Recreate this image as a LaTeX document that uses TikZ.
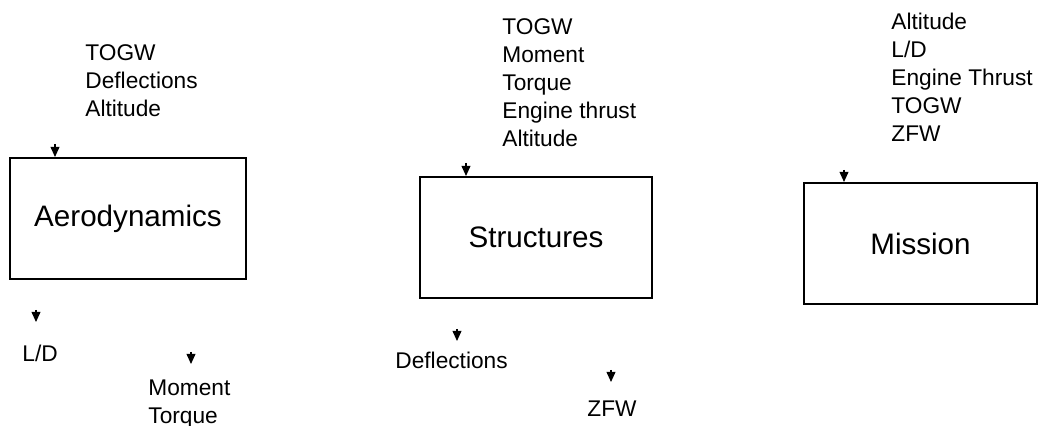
\documentclass[tikz,border=0pt]{standalone}
\usepackage{fontspec}
\setmainfont{Liberation Sans}
\usetikzlibrary{arrows.meta}
\begin{document}
\begin{tikzpicture}[x=0.5pt,y=-0.5pt,
  blockbox/.style={draw, line width=0.8pt, inner sep=0pt, font=\fontsize{14.8}{17}\selectfont},
  varlist/.style={anchor=north west, inner sep=0pt, align=left, font=\fontsize{11.35}{14}\selectfont},
  flow/.style={line width=0.6pt, -{Triangle[width=4.4pt,length=5pt]}}]
\useasboundingbox (0,0) rectangle (1038,426);
% boxes
\node[blockbox, minimum width=118pt, minimum height=60.5pt] (aero) at (128,218.5) {Aerodynamics};
\node[blockbox, minimum width=116pt, minimum height=60.5pt] (struct) at (536,237.5) {Structures};
\node[blockbox, minimum width=116.5pt, minimum height=60.5pt] (mission) at (920.5,243.5) {Mission};
% input lists
\node[varlist] (aeroin) at (85,44) {TOGW\\Deflections\\Altitude};
\node[varlist] (structin) at (502,18) {TOGW\\Moment\\Torque\\Engine thrust\\Altitude};
\node[varlist] (missionin) at (891,13) {Altitude\\L/D\\Engine Thrust\\TOGW\\ZFW};
% output lists
\node[varlist] (ld) at (22,345) {L/D};
\node[varlist] (mt) at (148,379) {Moment\\Torque};
\node[varlist] (defl) at (395,352) {Deflections};
\node[varlist] (zfw) at (587,400) {ZFW};
% arrow coordinates
\coordinate (a1s) at (55,144); \coordinate (a1e) at (55,157);
\coordinate (a2s) at (466,163); \coordinate (a2e) at (466,176);
\coordinate (a3s) at (844,170); \coordinate (a3e) at (844,182);
\coordinate (b1s) at (36,310); \coordinate (b1e) at (36,322);
\coordinate (b2s) at (191,352); \coordinate (b2e) at (191,364);
\coordinate (b3s) at (457,329); \coordinate (b3e) at (457,341);
\coordinate (b4s) at (611,370); \coordinate (b4e) at (611,382);
\draw[flow] (a1s) -- (a1e);
\draw[flow] (a2s) -- (a2e);
\draw[flow] (a3s) -- (a3e);
\draw[flow] (b1s) -- (b1e);
\draw[flow] (b2s) -- (b2e);
\draw[flow] (b3s) -- (b3e);
\draw[flow] (b4s) -- (b4e);
\end{tikzpicture}
\end{document}
